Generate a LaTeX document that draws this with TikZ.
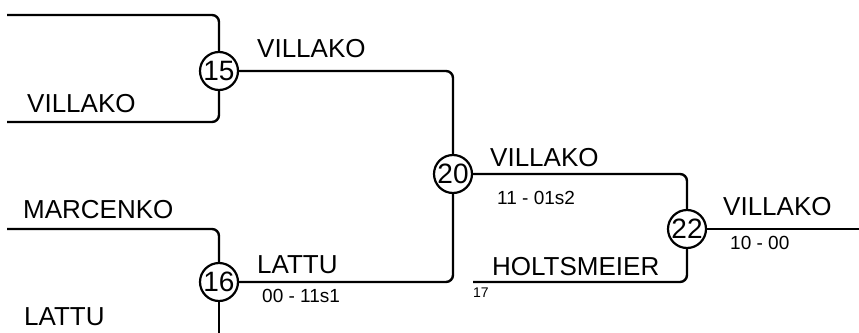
\documentclass[tikz,border=0pt]{standalone}
\usepackage{fontspec}
\setmainfont{Liberation Sans}
\begin{document}
\begin{tikzpicture}[x=1pt,y=-1pt,
  wire/.style={line width=2.4pt, rounded corners=7pt},
  seed/.style={circle, draw, line width=2.2pt, fill=white, inner sep=0pt, minimum size=38pt, font=\fontsize{28}{28}\selectfont},
  pname/.style={anchor=base west, inner sep=0pt, font=\fontsize{26}{30}\selectfont},
  pscore/.style={anchor=base west, inner sep=0pt, font=\fontsize{19}{22}\selectfont},
  ptiny/.style={anchor=base west, inner sep=0pt, font=\fontsize{14}{16}\selectfont}]
\useasboundingbox (0,0) rectangle (859,332);
\clip (0,0) rectangle (859,332);
% circles
\node[seed] (c15) at (219,71) {15};
\node[seed] (c16) at (219,282) {16};
\node[seed] (c20) at (453,174) {20};
\node[seed] (c22) at (687,229) {22};
% free ends
\coordinate (a1) at (7,15);
\coordinate (b1) at (7,122);
\coordinate (m1) at (7,229);
\coordinate (l1) at (219,345);
\coordinate (h1) at (473,282);
\coordinate (e1) at (870,229);
% wires
\draw[wire] (a1) -| (c15);
\draw[wire] (b1) -| (c15);
\draw[wire] (m1) -| (c16);
\draw[wire] (c16) -- (l1);
\draw[wire] (c15) -| (c20);
\draw[wire] (c16) -| (c20);
\draw[wire] (c20) -| (c22);
\draw[wire] (h1) -| (c22);
\draw[wire] (c22) -- (e1);
% texts
\node[pname] (n1) at (27,112) {VILLAKO};
\node[pname] (n2) at (257,57) {VILLAKO};
\node[pname] (n3) at (23,218) {MARCENKO};
\node[pname] (n4) at (257,273) {LATTU};
\node[pscore] (s4) at (262,302) {00 - 11s1};
\node[pname] (n5) at (24,325) {LATTU};
\node[pname] (n6) at (490,166) {VILLAKO};
\node[pscore] (s6) at (497,204) {11 - 01s2};
\node[pname] (n7) at (723,215) {VILLAKO};
\node[pscore] (s7) at (730,249) {10 - 00};
\node[pname] (n8) at (492,275) {HOLTSMEIER};
\node[ptiny] (t8) at (473,297) {17};
\end{tikzpicture}
\end{document}
